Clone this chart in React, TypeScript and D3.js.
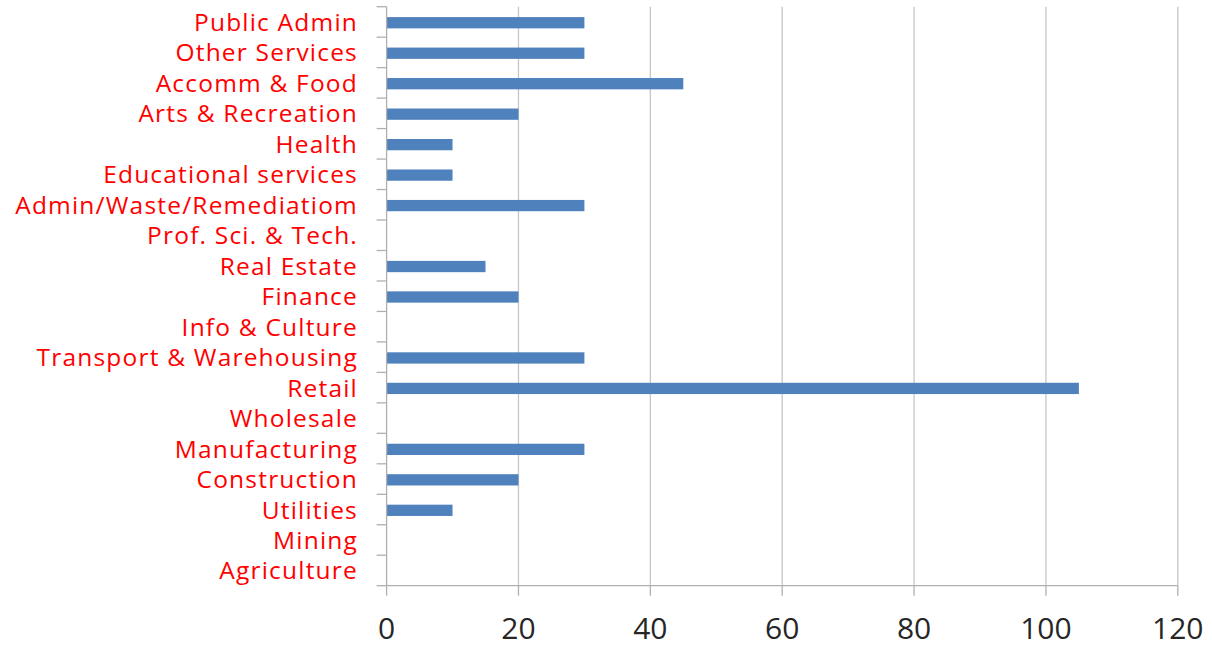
import React from "react";
import * as d3 from "d3";

const categories = [
  "Public Admin",
  "Other Services",
  "Accomm & Food",
  "Arts & Recreation",
  "Health",
  "Educational services",
  "Admin/Waste/Remediatiom",
  "Prof. Sci. & Tech.",
  "Real Estate",
  "Finance",
  "Info & Culture",
  "Transport & Warehousing",
  "Retail",
  "Wholesale",
  "Manufacturing",
  "Construction",
  "Utilities",
  "Mining",
  "Agriculture",
];

const values = [30, 30, 45, 20, 10, 10, 30, 0, 15, 20, 0, 30, 105, 0, 30, 20, 10, 0, 0];

const xTicks = [0, 20, 40, 60, 80, 100, 120];

const W = 1212;
const H = 647;
const left = 386.6;
const right = 1177.8;
const top = 6.7;
const bottom = 585.7;

export default function App() {
  const x = d3.scaleLinear().domain([0, 120]).range([left, right]);
  const y = d3
    .scaleBand<string>()
    .domain(categories)
    .range([top, bottom])
    .paddingInner(0.63)
    .paddingOuter(0.315);
  const step = y.step();
  const font = "'Open Sans', 'Liberation Sans', sans-serif";

  return (
    <div style={{ position: "fixed", left: 0, top: 0 }}>
      <svg width={W} height={H} style={{ display: "block", background: "#fff" }}>
        {/* vertical gridlines */}
        {xTicks.slice(1).map((t) => (
          <line key={"g" + t} x1={x(t)} x2={x(t)} y1={top} y2={bottom} stroke="#c6c6c6" strokeWidth={1.3} />
        ))}
        {/* bars */}
        {categories.map((c, i) =>
          values[i] > 0 ? (
            <rect
              key={c}
              x={x(0)}
              y={(y(c) as number) + 0.8}
              width={x(values[i]) - x(0)}
              height={y.bandwidth()}
              fill="#4f81bd"
            />
          ) : null
        )}
        {/* x axis */}
        <line x1={left} x2={right} y1={bottom} y2={bottom} stroke="#b0b0b0" strokeWidth={1.3} />
        {xTicks.map((t) => (
          <g key={"t" + t}>
            <line x1={x(t)} x2={x(t)} y1={bottom} y2={bottom + 10} stroke="#b0b0b0" strokeWidth={1.3} />
            <text
              x={x(t)}
              y={639}
              textAnchor="middle"
              fontFamily={font}
              fontSize={30}
              fill="#262626"
            >
              {t}
            </text>
          </g>
        ))}
        {/* y axis */}
        <line x1={left} x2={left} y1={top} y2={bottom} stroke="#b0b0b0" strokeWidth={1.3} />
        {d3.range(categories.length + 1).map((i) => (
          <line
            key={"yt" + i}
            x1={left - 10}
            x2={left}
            y1={top + i * step}
            y2={top + i * step}
            stroke="#b0b0b0"
            strokeWidth={1.3}
          />
        ))}
        {categories.map((c) => (
          <text
            key={"l" + c}
            x={358}
            y={(y(c) as number) + y.bandwidth() / 2 + 9}
            textAnchor="end"
            fontFamily={font}
            fontSize={24.5}
            letterSpacing={1.2}
            fill="#ff0000"
          >
            {c}
          </text>
        ))}
      </svg>
    </div>
  );
}
